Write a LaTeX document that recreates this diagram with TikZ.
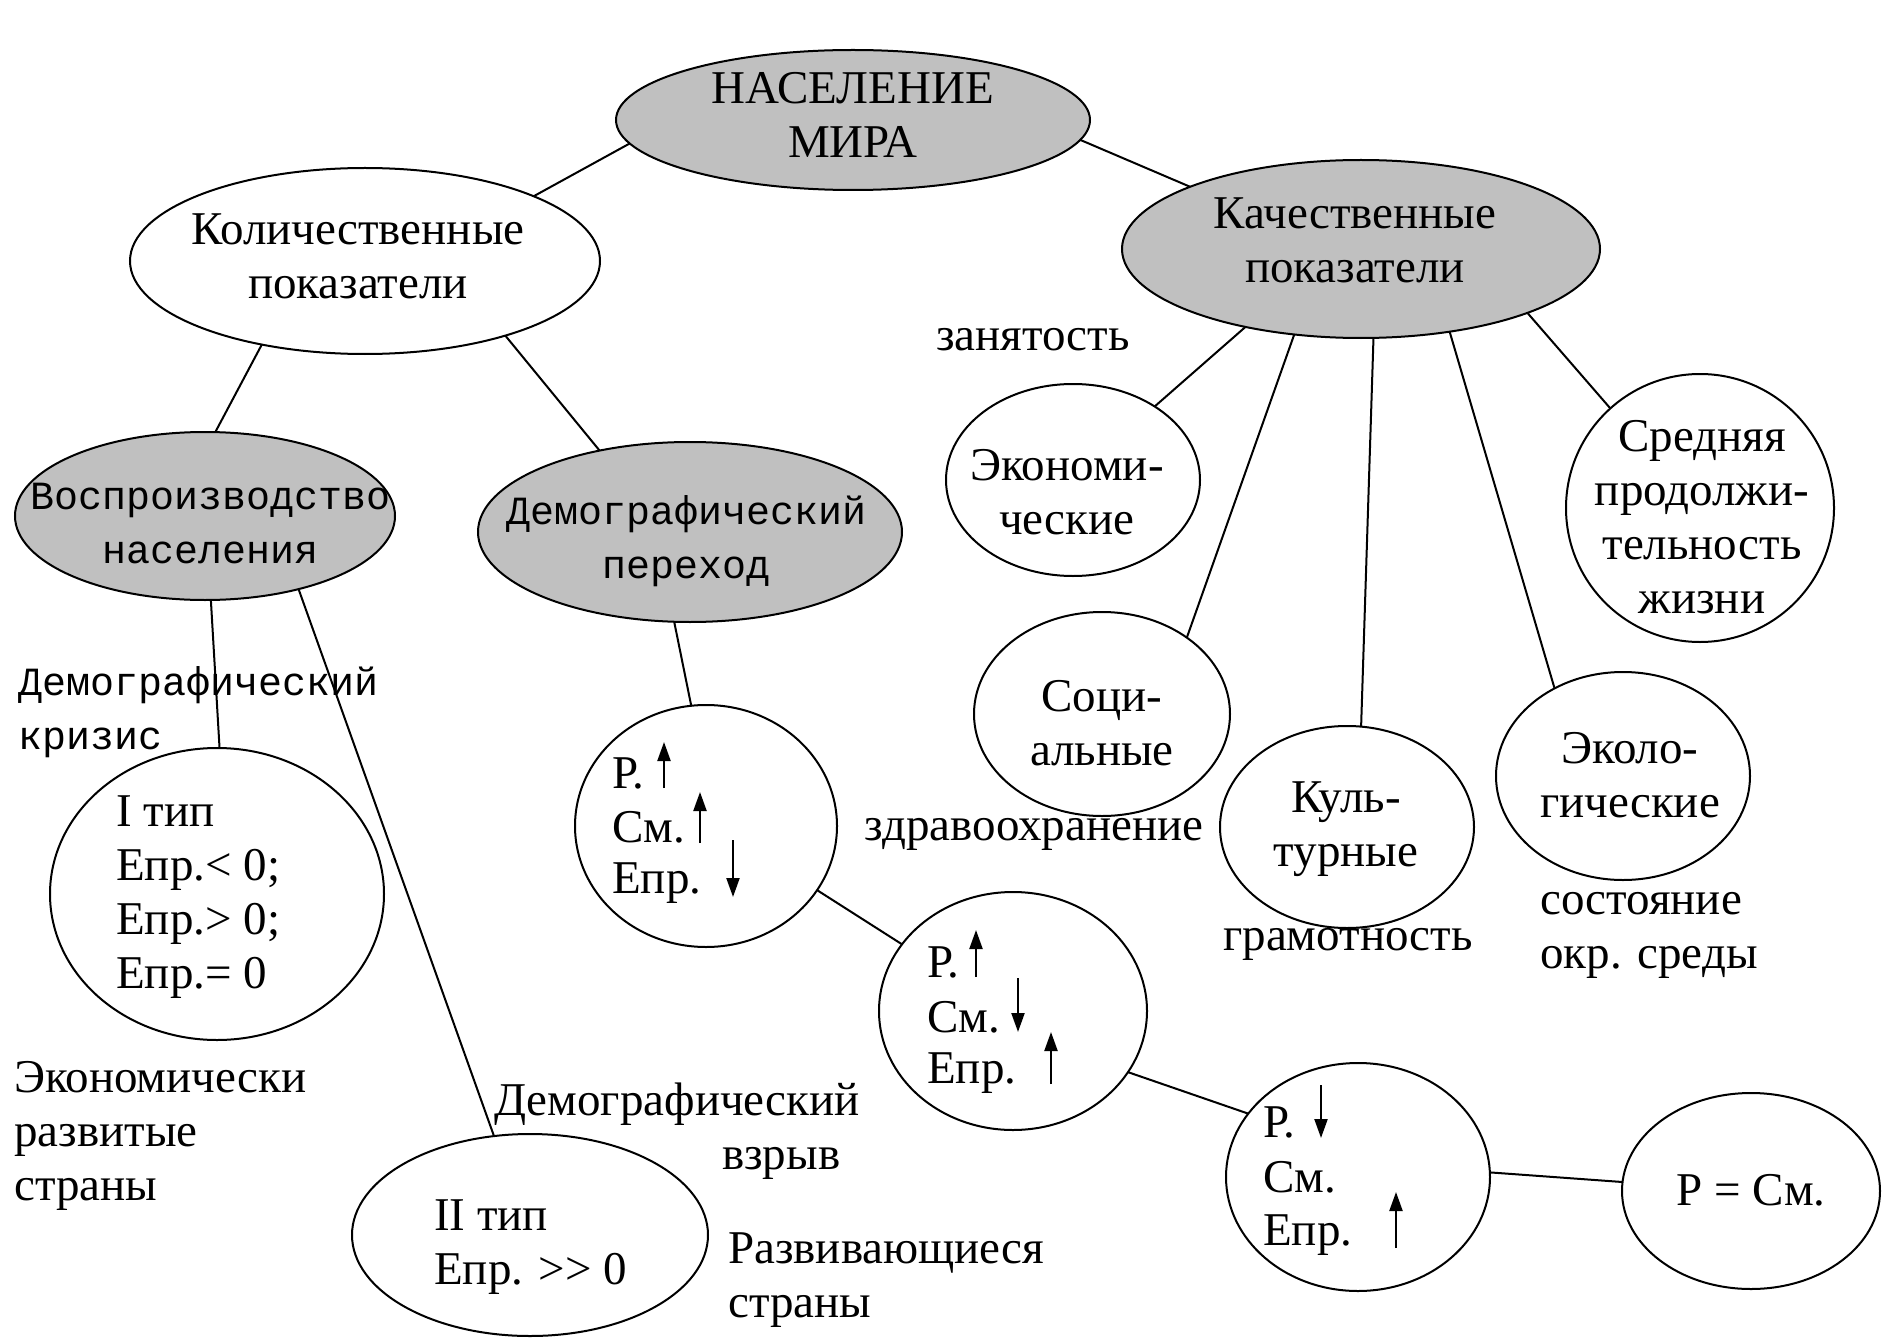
\documentclass[tikz,border=0pt]{standalone}
\usepackage{fontspec}
\setmainfont{Liberation Serif}
\newfontfamily\monof{Liberation Mono}
\usetikzlibrary{shapes.geometric,arrows.meta}
\definecolor{grayfill}{HTML}{C0C0C0}
\tikzset{
 ell/.style={draw, ellipse, line width=2pt, inner sep=0pt, outer sep=0pt, fill=white},
 grey/.style={fill=grayfill},
 sz/.style 2 args={minimum width=#1pt, minimum height=#2pt},
 txt/.style={font=\fontsize{47}{54}\selectfont, inner sep=0pt, align=center},
 mtxt/.style={font=\monof\fontsize{40}{54}\selectfont, inner sep=0pt, align=center},
 link/.style={line width=2pt},
 arr/.style={line width=2.2pt, -{Triangle[width=13pt,length=19pt]}},
}
\begin{document}
\begin{tikzpicture}[x=1pt,y=-1pt]
\useasboundingbox (0,0) rectangle (1882,1340);
\fill[white] (0,0) rectangle (1882,1340);

% shapes
\node[ell,grey,sz={474}{140}] (top) at (853,120) {};
\node[ell,sz={470}{186}] (kol) at (365,261) {};
\node[ell,grey,sz={478}{178}] (kach) at (1361,249) {};
\node[ell,grey,sz={380}{168}] (vospr) at (205,516) {};
\node[ell,grey,sz={424}{180}] (demper) at (690,532) {};
\node[ell,sz={334}{292}] (type1) at (217,894) {};
\node[ell,sz={356}{202}] (type2) at (530,1235) {};
\node[ell,sz={262}{242}] (c1) at (706,826) {};
\node[ell,sz={268}{238}] (c2) at (1013,1011) {};
\node[ell,sz={264}{228}] (c3) at (1358,1177) {};
\node[ell,sz={258}{196}] (peq) at (1751,1191) {};
\node[ell,sz={254}{192}] (econ) at (1073,480) {};
\node[ell,sz={268}{268}] (sred) at (1700,508) {};
\node[ell,sz={256}{204}] (soc) at (1102,714) {};
\node[ell,sz={254}{202}] (kult) at (1347,827) {};
\node[ell,sz={254}{208}] (ekol) at (1623,776) {};

% texts in shapes
\node[txt] (topT) at (853,115) {НАСЕЛЕНИЕ\\МИРА};
\node[txt] (kolT) at (358,256) {Количественные\\показатели};
\node[txt] (kachT) at (1355,240) {Качественные\\показатели};
\node[mtxt] (vosprT) at (211,524) {Воспроизводство\\населения};
\node[mtxt] (demperT) at (687,541) {Демографический\\переход};
\node[txt,align=left,anchor=west] (type1T) at (116,897) {I тип\\Епр.< 0;\\Епр.> 0;\\Епр.= 0};
\node[txt,align=left,anchor=west] (type2T) at (434,1247) {II тип\\Епр. >\kern0pt> 0};
\node[txt,anchor=base west] (c1a) at (612,788) {Р.};
\node[txt,anchor=base west] (c1b) at (612,842) {См.};
\node[txt,anchor=base west] (c1c) at (612,893) {Епр.};
\node[txt,anchor=base west] (c2a) at (927,977) {Р.};
\node[txt,anchor=base west] (c2b) at (927,1032) {См.};
\node[txt,anchor=base west] (c2c) at (927,1083) {Епр.};
\node[txt,anchor=base west] (c3a) at (1263,1137) {Р.};
\node[txt,anchor=base west] (c3b) at (1263,1192) {См.};
\node[txt,anchor=base west] (c3c) at (1263,1245) {Епр.};
\node[txt] (peqT) at (1751,1190) {Р = См.};
\node[txt] (econT) at (1067,492) {Экономи-\\ческие};
\node[txt] (sredT) at (1702,517) {Средняя\\продолжи-\\тельность\\жизни};
\node[txt] (socT) at (1102,723) {Соци-\\альные};
\node[txt] (kultT) at (1346,829) {Куль-\\турные};
\node[txt] (ekolT) at (1630,775) {Эколо-\\гические};

% free labels
\node[txt] (zan) at (1033,340) {занятость};
\node[txt] (zdrav) at (1034,834) {здравоохранение};
\node[txt] (gram) at (1348,944) {грамотность};
\node[txt,align=left,anchor=west] (sost) at (1540,935) {состояние\\окр. среды};
\node[mtxt,align=left,anchor=west] (krizis) at (18,712) {Демографический\\кризис};
\node[txt,align=left,anchor=west] (razv) at (14,1136) {Экономически\\развитые\\страны};
\node[txt,align=left,anchor=west] (vzryv) at (494,1131) {Демографический\\\hspace*{228pt}взрыв};
\node[txt,align=left,anchor=west] (razvi) at (728,1280) {Развивающиеся\\страны};

% connectors
\draw[link] (top.186.5) -- (kol.21);
\draw[link] (top.355.6) -- (kach.160);
\draw[link] (kol.219.7) -- (vospr.83.5);
\draw[link] (kol.332.4) -- (demper.138.8);
\draw[link] (vospr.274) -- (type1.89);
\draw[link] (vospr.322) -- (type2.110.6);
\draw[link] (demper.260) -- (c1.97.9);
\draw[link] (c1.330.3) -- (c2.149.9);
\draw[link] (c2.332.5) -- (c3.150.5);
\draw[link] (c3.2) -- (peq.176);
\draw[link] (kach.214.7) -- (econ.42.4);
\draw[link] (kach.232.4) -- (soc.42.2);
\draw[link] (kach.278.3) -- (kult.82.7);
\draw[link] (kach.317.6) -- (ekol.128.2);
\draw[link] (kach.339) -- (sred.132.7);

% arrows in circles
\draw[arr] (664,788) -- (664,742);
\draw[arr] (700,843) -- (700,792);
\draw[arr] (733,840) -- (733,897);
\draw[arr] (976,977) -- (976,930);
\draw[arr] (1018,978) -- (1018,1032);
\draw[arr] (1051,1084) -- (1051,1032);
\draw[arr] (1321,1085) -- (1321,1138);
\draw[arr] (1396,1248) -- (1396,1192);
\end{tikzpicture}
\end{document}
